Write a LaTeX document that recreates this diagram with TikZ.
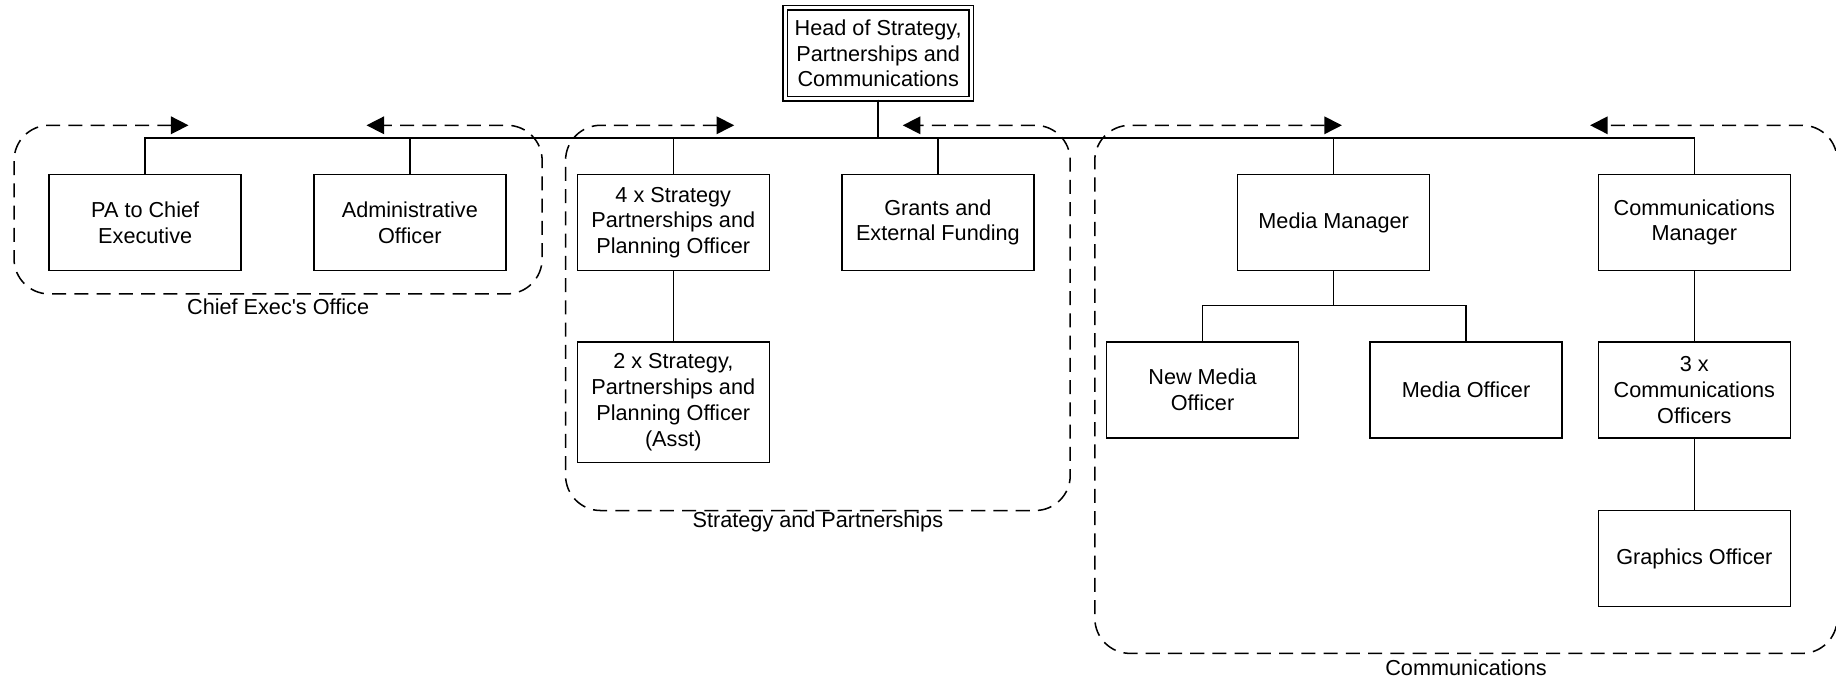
\documentclass[tikz,border=0pt]{standalone}
\usepackage{fontspec}
\setmainfont{Liberation Sans}[Ligatures=TeXOff]
\usetikzlibrary{arrows.meta}

\tikzset{
  post/.style = {draw, minimum width=164pt, minimum height=82pt, inner sep=2pt, align=center},
  unit/.style = {<->, dash pattern=on 12pt off 7pt, rounded corners=30pt}
}

\begin{document}
\begin{tikzpicture}[x = 1pt, y = -1pt, line width = 1.3pt, >= {Triangle[length=15pt,width=15pt]},
                    font = \fontsize{18.5}{22}\selectfont]
          \useasboundingbox (0, 0) rectangle (1568, 582);
          \node[post, double, double distance=2.5pt, minimum width=159pt, minimum height=78pt] (head) at (750, 45.5)
               {Head of Strategy,\\Partnerships and\\Communications};
          \node[post] (pa) at (124, 190) {PA to Chief\\Executive};
          \node[post] (admin) at (350, 190) {Administrative\\Officer};
          \node[post] (spo) at (575, 190) {4 x Strategy\\Partnerships and\\Planning Officer};
          \node[post] (grants) at (801, 190) {Grants and\\External Funding};
          \node[post] (mm) at (1139, 190) {Media Manager};
          \node[post] (cm) at (1447, 190) {Communications\\Manager};
          \node[post, minimum height=103pt] (asst) at (575, 343.5)
               {2 x Strategy,\\Partnerships and\\Planning Officer\\(Asst)};
          \node[post] (nmo) at (1027, 333) {New Media\\Officer};
          \node[post] (mo) at (1252, 333) {Media Officer};
          \node[post] (cmo) at (1447, 333) {3 x\\Communications\\Officers};
          \node[post] (gfx) at (1447, 477) {Graphics Officer};
          \coordinate (bus) at (750, 118);
          \coordinate (mmhub) at (1139, 261);
          \draw (head.south) -- (bus);
          \draw (pa.north) |- (bus);
          \draw (admin.north) |- (bus);
          \draw (spo.north) |- (bus);
          \draw (grants.north) |- (bus);
          \draw (mm.north) |- (bus);
          \draw (cm.north) |- (bus);
          \draw (spo.south) -- (asst.north);
          \draw (mm.south) -- (mmhub);
          \draw (nmo.north) |- (mmhub);
          \draw (mo.north) |- (mmhub);
          \draw (cm.south) -- (cmo.north);
          \draw (cmo.south) -- (gfx.north);
          % dashed groups
          \draw[unit] (161, 107) -- (12, 107) -- (12, 251) -- (463, 251) -- (463, 107) -- (313, 107);
          \draw[unit] (627, 107) -- (483, 107) -- (483, 436) -- (914, 436) -- (914, 107) -- (771, 107);
          \draw[unit] (1146, 107) -- (935, 107) -- (935, 558) -- (1569, 558) -- (1569, 107) -- (1358, 107);
          \node (ceolbl) at (237.5, 262) {Chief Exec's Office};
          \node (splbl) at (698.5, 446) {Strategy and Partnerships};
          \node (comlbl) at (1252, 570) {Communications};
      \end{tikzpicture}
\end{document}
